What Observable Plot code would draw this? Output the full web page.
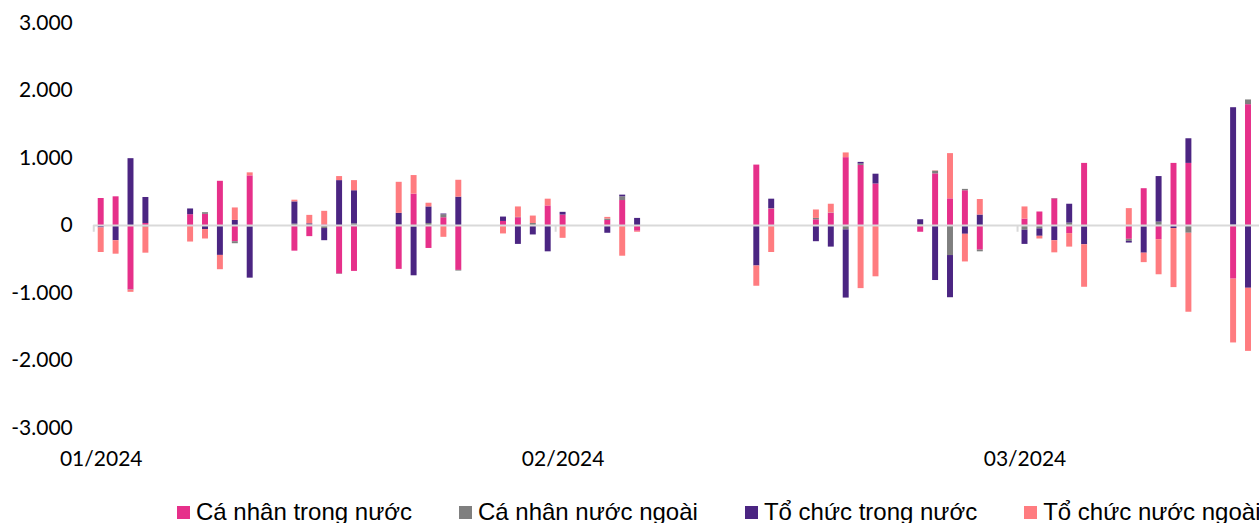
<!DOCTYPE html>
<html><head><meta charset="utf-8">
<script src="https://cdn.jsdelivr.net/npm/d3@7"></script>
<script src="https://cdn.jsdelivr.net/npm/@observablehq/plot@0.6"></script>
<style>
body{margin:0;background:#fff;width:1259px;height:523px;overflow:hidden;position:relative;font-family:Lato,sans-serif}
#chart{position:absolute;left:0;top:0}
#legend{position:absolute;left:177px;top:499px;display:flex;gap:47px;font-family:"Liberation Sans",Arial,sans-serif;font-size:24px;line-height:26px;white-space:nowrap;color:#000}
.item{display:flex;align-items:center}
.sw{width:13px;height:13px;margin-right:6px;flex:none}
</style></head><body>
<div id="chart"></div><div id="legend"></div>
<script>
const dates = [
  "2024-01-02","2024-01-03","2024-01-04","2024-01-05",
  "2024-01-08","2024-01-09","2024-01-10","2024-01-11","2024-01-12",
  "2024-01-15","2024-01-16","2024-01-17","2024-01-18","2024-01-19",
  "2024-01-22","2024-01-23","2024-01-24","2024-01-25","2024-01-26",
  "2024-01-29","2024-01-30","2024-01-31","2024-02-01","2024-02-02",
  "2024-02-05","2024-02-06","2024-02-07",
  "2024-02-15","2024-02-16",
  "2024-02-19","2024-02-20","2024-02-21","2024-02-22","2024-02-23",
  "2024-02-26","2024-02-27","2024-02-28","2024-02-29","2024-03-01",
  "2024-03-04","2024-03-05","2024-03-06","2024-03-07","2024-03-08",
  "2024-03-11","2024-03-12","2024-03-13","2024-03-14","2024-03-15",
  "2024-03-18","2024-03-19"
];
const caNhanTrongNuoc = [
  400, 425, -955, 30,
  160, 165, 655, -240, 735,
  -380, -165, 10, -720, -680,
  -650, 465, -340, 115, -665,
  60, 115, -5, 290, 155,
  75, 370, -85,
  895, 245,
  85, 180, 1005, 890, 615,
  -100, 765, 395, 515, -365,
  95, 200, 395, -120, 920,
  -205, 545, -210, 920, 920,
  -795, 1790
];
const caNhanNuocNgoai = [
  -5, -5, -5, -25,
  -5, 25, -8, -30, -20,
  20, 10, -45, -5, 25,
  5, -25, 30, 45, -10,
  -15, 5, 30, -5, -15,
  20, 55, 0,
  -15, 5,
  20, 5, -65, 20, -15,
  15, 40, -445, 20, -25,
  -70, -50, 5, 35, -20,
  -30, -20, 50, -15, -115,
  5, 70
];
const toChucTrongNuoc = [
  -30, -220, 990, 385,
  85, -60, -435, 75, -760,
  330, 15, -180, 665, 490,
  175, -720, 245, 10, 420,
  65, -280, -135, -385, 40,
  -115, 25, 105,
  -585, 140,
  -240, -320, -1010, 25, 145,
  70, -815, -625, -130, 155,
  -210, -110, -225, 280, -265,
  -25, -390, 675, -30, 365,
  1740, -930
];
const toChucNuocNgoai = [
  -365, -200, -30, -385,
  -240, -140, -212, 185, 45,
  25, 125, 200, 60, 150,
  460, 275, 55, -175, 250,
  -110, 155, 110, 100, -175,
  25, -455, -15,
  -300, -400,
  125, 130, 70, -935, -745,
  0, 5, 670, -410, 230,
  180, -40, -180, -200, -630,
  250, -140, -520, -875, -1170,
  -945, -935
];
const seriesNames = ["Cá nhân trong nước", "Cá nhân nước ngoài", "Tổ chức trong nước", "Tổ chức nước ngoài"];
const seriesColors = ["#E6308A", "#7F7F7F", "#4B2582", "#FF7C80"];
const yTicks = [-3000, -2000, -1000, 0, 1000, 2000, 3000];
const xTicks = ["2024-01-02", "2024-02-02", "2024-03-04"];

const seriesValues = [caNhanTrongNuoc, caNhanNuocNgoai, toChucTrongNuoc, toChucNuocNgoai];
const table = [];
dates.forEach((d, i) => {
  seriesNames.forEach((s, k) => table.push({date: d, series: s, value: seriesValues[k][i]}));
});

const allDays = d3.utcDay.range(new Date(dates[0]), d3.utcDay.offset(new Date(dates[dates.length - 1]), 1))
  .map(d => d3.utcFormat("%Y-%m-%d")(d));

const vn = d3.formatLocale({decimal: ",", thousands: ".", grouping: [3], currency: ["", " đ"], minus: "-"});
const fmtY = vn.format(",d");
const fmtX = d => d3.utcFormat("%m/%Y")(new Date(d));

const W = 1259, H = 480;
const chart = Plot.plot({
  width: W, height: H,
  marginLeft: 93.25, marginRight: 3.55, marginTop: 22.5, marginBottom: 52.5,
  style: {fontFamily: "Lato, sans-serif", fontSize: "21px", color: "#000", background: "#fff"},
  x: {type: "band", domain: allDays, paddingInner: 0.6, paddingOuter: 0.3, align: 0.5},
  y: {domain: [-3000, 3000]},
  color: {domain: seriesNames, range: seriesColors},
  marks: [
    Plot.barY(table, {x: "date", y: "value", fill: "series", z: "series"}),
    Plot.ruleY([0], {stroke: "#d9d9d9", strokeWidth: 2, insetRight: -4}),
    Plot.ruleX(xTicks, {x: d => d, y1: 0, y2: -100, dx: -7.45, stroke: "#d9d9d9", strokeWidth: 2}),
    Plot.axisY({ticks: yTicks, tickFormat: fmtY, tickSize: 0, tickPadding: 21, fontSize: 21, label: null, fill: "#000"}),
    Plot.axisX({ticks: xTicks, tickFormat: fmtX, tickSize: 0, tickPadding: 23, fontSize: 21, label: null, fill: "#000"})
  ]
});
document.getElementById("chart").appendChild(chart);

const legend = document.getElementById("legend");
seriesNames.forEach((s, k) => {
  const item = document.createElement("div");
  item.className = "item";
  const sw = document.createElement("span");
  sw.className = "sw";
  sw.style.background = seriesColors[k];
  const t = document.createElement("span");
  t.textContent = s;
  item.appendChild(sw); item.appendChild(t);
  legend.appendChild(item);
});
</script>
</body></html>
